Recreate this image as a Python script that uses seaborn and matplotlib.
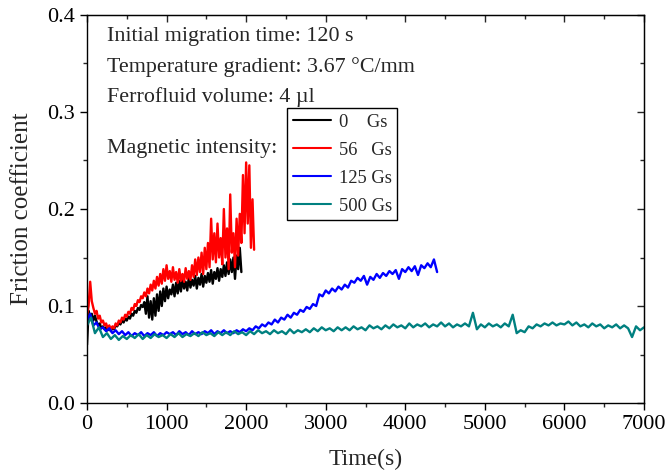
import numpy as np
import pandas as pd
import matplotlib
matplotlib.use("Agg")
import matplotlib.pyplot as plt
import seaborn as sns
from matplotlib.ticker import MultipleLocator

# ---------------- data ----------------
t_0gs = np.arange(0, 1941, 20)
f_0gs = [
    0.060, 0.095, 0.088, 0.092, 0.085, 0.090,
    0.084, 0.080, 0.082, 0.077, 0.079, 0.076, 0.078, 0.075, 0.077, 0.074,
    0.078, 0.076, 0.080, 0.079, 0.083, 0.081, 0.085, 0.083, 0.087, 0.085,
    0.089, 0.087, 0.092, 0.090, 0.095, 0.093, 0.098, 0.096, 0.101, 0.099,
    0.104, 0.092, 0.110, 0.088, 0.105, 0.086, 0.108, 0.090, 0.112, 0.095,
    0.115, 0.100, 0.118, 0.105, 0.120, 0.108, 0.117, 0.112, 0.122, 0.110,
    0.124, 0.113, 0.126, 0.115, 0.128, 0.118, 0.125, 0.116, 0.130, 0.119,
    0.127, 0.121, 0.131, 0.118, 0.129, 0.122, 0.133, 0.120, 0.131, 0.124,
    0.134, 0.125, 0.137, 0.123, 0.135, 0.128, 0.139, 0.126, 0.138, 0.130,
    0.142, 0.131, 0.145, 0.133, 0.148, 0.135, 0.150, 0.128, 0.152, 0.138,
    0.160, 0.135,
]

t_56gs = np.arange(0, 2101, 20)
f_56gs = [
    0.090, 0.100, 0.125, 0.105, 0.098, 0.092,
    0.095, 0.087, 0.090, 0.083, 0.085, 0.080, 0.082, 0.077, 0.080, 0.076,
    0.079, 0.077, 0.082, 0.080, 0.085, 0.083, 0.088, 0.086, 0.091, 0.089,
    0.094, 0.092, 0.098, 0.096, 0.102, 0.100, 0.106, 0.104, 0.110, 0.108,
    0.114, 0.110, 0.118, 0.113, 0.122, 0.116, 0.126, 0.118, 0.130, 0.121,
    0.133, 0.123, 0.138, 0.126, 0.142, 0.128, 0.136, 0.125, 0.140, 0.127,
    0.135, 0.124, 0.138, 0.126, 0.133, 0.125, 0.139, 0.128, 0.136, 0.127,
    0.142, 0.130, 0.148, 0.132, 0.150, 0.135, 0.155, 0.133, 0.160, 0.138,
    0.165, 0.140, 0.190, 0.148, 0.175, 0.145, 0.185, 0.150, 0.170, 0.143,
    0.200, 0.150, 0.180, 0.138, 0.215, 0.155, 0.175, 0.140, 0.190, 0.152,
    0.195, 0.165, 0.235, 0.175, 0.248, 0.185, 0.245, 0.160, 0.210, 0.158,
]

t_125gs = np.arange(0, 4401, 40)
f_125gs = [
    0.085, 0.092, 0.080, 0.083, 0.076, 0.078,
    0.074, 0.077, 0.072, 0.075, 0.071, 0.074, 0.070, 0.073, 0.069, 0.072,
    0.070, 0.073, 0.069, 0.072, 0.070, 0.073, 0.069, 0.072, 0.070, 0.073,
    0.071, 0.073, 0.070, 0.074, 0.071, 0.073, 0.070, 0.074, 0.071, 0.073,
    0.071, 0.074, 0.072, 0.075, 0.071, 0.074, 0.072, 0.075, 0.072, 0.074,
    0.072, 0.075, 0.073, 0.076, 0.074, 0.077, 0.075, 0.079, 0.077, 0.081,
    0.079, 0.083, 0.081, 0.086, 0.083, 0.088, 0.086, 0.091, 0.088, 0.093,
    0.091, 0.096, 0.094, 0.099, 0.097, 0.102, 0.100, 0.112, 0.110, 0.116,
    0.113, 0.118, 0.115, 0.120, 0.117, 0.122, 0.119, 0.126, 0.124, 0.129,
    0.126, 0.131, 0.122, 0.130, 0.127, 0.133, 0.129, 0.134, 0.131, 0.136,
    0.133, 0.137, 0.128, 0.138, 0.135, 0.140, 0.136, 0.141, 0.132, 0.142,
    0.139, 0.144, 0.140, 0.148, 0.135,
]

t_500gs = np.arange(0, 7001, 50)
f_500gs = [
    0.080, 0.088, 0.072, 0.078, 0.068,
    0.072, 0.066, 0.070, 0.065, 0.069, 0.066, 0.070, 0.067, 0.071, 0.066,
    0.070, 0.067, 0.071, 0.068, 0.070, 0.067, 0.071, 0.068, 0.072, 0.068,
    0.071, 0.069, 0.072, 0.069, 0.073, 0.070, 0.072, 0.069, 0.073, 0.070,
    0.073, 0.070, 0.074, 0.071, 0.073, 0.070, 0.074, 0.071, 0.075, 0.072,
    0.074, 0.071, 0.075, 0.072, 0.074, 0.071, 0.076, 0.072, 0.075, 0.073,
    0.076, 0.073, 0.077, 0.074, 0.078, 0.075, 0.077, 0.074, 0.078, 0.075,
    0.078, 0.075, 0.079, 0.076, 0.078, 0.075, 0.080, 0.077, 0.079, 0.076,
    0.080, 0.077, 0.081, 0.078, 0.080, 0.077, 0.082, 0.078, 0.081, 0.079,
    0.082, 0.078, 0.081, 0.079, 0.083, 0.079, 0.082, 0.078, 0.081, 0.079,
    0.082, 0.079, 0.093, 0.076, 0.081, 0.078, 0.082, 0.079, 0.081, 0.078,
    0.082, 0.079, 0.091, 0.072, 0.075, 0.073, 0.079, 0.077, 0.081, 0.079,
    0.082, 0.080, 0.083, 0.080, 0.082, 0.081, 0.084, 0.080, 0.083, 0.079,
    0.081, 0.078, 0.082, 0.079, 0.081, 0.077, 0.080, 0.078, 0.081, 0.077,
    0.080, 0.077, 0.068, 0.079, 0.075, 0.078,
]

series_labels = ["0    Gs", "56   Gs", "125 Gs", "500 Gs"]
series_colors = ["#000000", "#ff0000", "#0000ff", "#008080"]
annotations = [
    "Initial migration time: 120 s",
    "Temperature gradient: 3.67 \u00b0C/mm",
    "Ferrofluid volume: 4 \u00b5l",
    "Magnetic intensity:",
]

# ---------------- style ----------------
sns.set_style("ticks")
plt.rcParams["font.family"] = ["Liberation Serif", "DejaVu Serif"]

fig = plt.figure(figsize=(6.65, 4.70), dpi=100)
ax = fig.add_axes([87 / 665, 67 / 470, 557 / 665, 388 / 470])

all_t = [t_0gs, t_56gs, t_125gs, t_500gs]
all_f = [f_0gs, f_56gs, f_125gs, f_500gs]
for tt, ff, lab, col in zip(all_t, all_f, series_labels, series_colors):
    df = pd.DataFrame({"t": tt, "f": ff})
    sns.lineplot(data=df, x="t", y="f", ax=ax, color=col, lw=1.7,
                 label=lab, estimator=None, sort=False)

ax.set_xlim(0, 7000)
ax.set_ylim(0.0, 0.4)
ax.xaxis.set_major_locator(MultipleLocator(1000))
ax.xaxis.set_minor_locator(MultipleLocator(500))
ax.yaxis.set_major_locator(MultipleLocator(0.1))
ax.yaxis.set_minor_locator(MultipleLocator(0.05))
ax.yaxis.set_major_formatter(matplotlib.ticker.FormatStrFormatter("%.1f"))
ax.tick_params(which="major", direction="out", length=5, width=1,
               labelsize=16, colors="black")
ax.tick_params(which="minor", direction="out", length=3, width=1)
for sp in ax.spines.values():
    sp.set_visible(True)
    sp.set_linewidth(1.0)
    sp.set_color("black")

# inward ticks on top / right
secx = ax.secondary_xaxis("top")
secx.xaxis.set_major_locator(MultipleLocator(1000))
secx.xaxis.set_minor_locator(MultipleLocator(500))
secx.tick_params(which="major", direction="in", length=5, width=1, labeltop=False)
secx.tick_params(which="minor", direction="in", length=3, width=1)
secy = ax.secondary_yaxis("right")
secy.yaxis.set_major_locator(MultipleLocator(0.1))
secy.yaxis.set_minor_locator(MultipleLocator(0.05))
secy.tick_params(which="major", direction="in", length=5, width=1, labelright=False)
secy.tick_params(which="minor", direction="in", length=3, width=1)

ax.set_xlabel("Time(s)", fontsize=17, labelpad=11)
ax.set_ylabel("Friction coefficient", fontsize=18, labelpad=10)

# annotations
ann_y = [37, 67, 97, 148]
for txt, yy in zip(annotations, ann_y):
    ax.text((107 - 87) / 557, (403 - yy) / 388, txt, transform=ax.transAxes,
            fontsize=15.8, va="center", ha="left")

leg = ax.legend(loc="upper left", bbox_to_anchor=((287 - 87) / 557, (403 - 108) / 388),
                borderaxespad=0, fontsize=13.3, frameon=True, fancybox=False,
                edgecolor="black", framealpha=1, handlelength=2.1,
                handletextpad=0.4, labelspacing=0.6, borderpad=0.3)
leg.get_frame().set_linewidth(1.0)
for ln in leg.get_lines():
    ln.set_linewidth(1.5)

fig.savefig("out.png", dpi=100)
